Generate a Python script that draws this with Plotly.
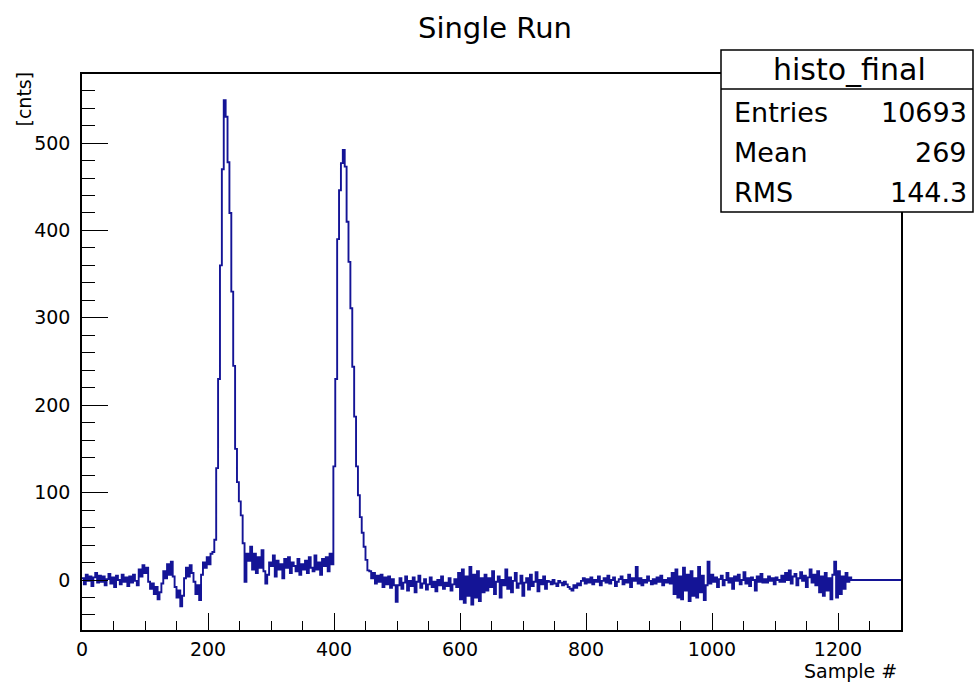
import plotly.graph_objects as go

# Waveform histogram: 3 samples per bin, contents per bin
BIN_WIDTH = 3
X_MAX = 1300

pre_pulse = [
    2, -5, 6, -1, 4, -7, 3, 8, -3, 5, -2, 4, -6, 1, 7, -4, 3, -8, 5, 0,
    -5, 6, -2, 3, -7, 4, -3, 6, -1, -6,
    12, 4, 17, 8, 14,
    -2, -10, -4, -16, -8, -22, -14,
    -4, 10, 2, 18, 6, 21, 4,
    -8, -20, -12, -30, -18,
    2, 14, 4, 17, 8,
    -2, -16, -6, -23,
    6, 20, 14, 26, 18, 30,
]

pulse_1 = [32, 46, 128, 230, 360, 470, 549, 530, 478, 420, 330, 245,
           150, 112, 90, 74, 42, -2, 30]

between = [
    22, 38, 12, 30, 8, 26, 14, 34, 10, -4,
    6, 20, 16, 28, 4, 22, 12, 18, 2, 24,
    14, 26, 8, 20, 16, 10, 24, 6, 18, 12,
    22, 8, 26, 14, 10, 28, 12, 20, 6, 24,
    16, 26, 10, 30, 18,
]

pulse_2 = [130, 230, 390, 446, 477, 492, 473, 410, 364, 311, 244, 187,
           130, 97, 72, 54, 38, 23, 11]

tail = [
    10, 2, 8, -4, 5, -2, 6, -8, 3, -5, 4, -9, 1, -6,
    -25, -6,
    2, -10, -3, 4, -12, -1, -7, 3, -14, -2, 5, -9, -4, 1, -11, -5, 3, -8,
    -2, -13, 0, -6, 4, -10, -3, -7, 2, -12, -5, 1, -8,
    8, -22, 12, -26, 4, -18, 15, -28, 6, -20, 10, -24, 2, -14,
    6, -12, 2, -8, 10, -16, -2, 4, -20, 0, -6, 12, -10, 3, -14, -1, 8, -9,
    -4, 5, -18, -3, 2, -11, 6, -7, -2, 9, -13, 0, -5, 4, -10, -1,
    -2, -5, 0, -4, -7, -1, -3, -6, -2, -5, -8, -10, -12, -6, -9, -4,
    -6, -1, 2, -4, 1, -3, 3, -5, 0, -2, 4, -6, -1, 2, -3, 5, -4, 0, 3, -7,
    -2, 1, 4, -5, 0, -3, 6, -8, 2, -1, 15, -4,
    2, -6, 0, -3, 4, -1, -5, 1, -4, 3, -2, 5, -6, 0, -3, 2, -4,
    8, -16, 12, -20, 4, -22, 14, -12, 6, -24, 10, -18, 2, -20, 15, -14, 5,
    -23, -6,
    21,
    -4, 6, -2, 3, -8, 1, 5, -6, 0, 8, -3, 2, -10, 4, -1, 6, -5, 0, 9, -4,
    2, -7, 3, 0, -12, 4, -2, 7, -3,
    1, -3, 4, -1, 2, -5, 3, 0, -2,
    5, -2, 8, 0, 11, -4, 4, 7, -6, 2, 9, -1, 5, -8, 3, 12, -3, 6,
    -6, 10, -14, 4, -18, 8, -12, 2, -22, 6, 21, -20, 10, -16, 4, -10, 8, -2, 3,
]

stats_name = "histo_final"
stats_labels = ["Entries", "Mean", "RMS"]
stats_values = ["10693", "269", "144.3"]

counts = pre_pulse + pulse_1 + between + pulse_2 + tail
edges = [i * BIN_WIDTH for i in range(len(counts))]
# empty bins after the recorded samples, up to the axis end
xs = edges + [len(counts) * BIN_WIDTH, X_MAX]
ys = counts + [0, 0]

# frame geometry in pixels
W, H = 975, 682
L, R, T, B = 82, 901, 74, 630
FONT = "DejaVu Sans, Liberation Sans, Arial, sans-serif"


def px_x(p):
    return (p - L) / (R - L)


def px_y(p):
    return (B - p) / (B - T)


fig = go.Figure()
fig.add_trace(go.Scatter(
    x=xs, y=ys, mode="lines", line_shape="hv",
    line=dict(color="#141496", width=1.9),
    hoverinfo="skip", showlegend=False,
))

axis_common = dict(
    showgrid=False, zeroline=False, showline=True, mirror=True,
    linecolor="black", linewidth=1.5, ticks="inside", tickcolor="black",
    tickwidth=1.3, tickfont=dict(family=FONT, size=19, color="black"),
)

fig.update_xaxes(
    range=[0, X_MAX], dtick=200, tick0=0, ticklen=17,
    minor=dict(dtick=50, ticks="inside", ticklen=9, tickcolor="black",
               tickwidth=1.3),
    ticklabelstandoff=1,
    **axis_common,
)
fig.update_yaxes(
    range=[-57.2, 579], dtick=100, tick0=0, ticklen=26,
    minor=dict(dtick=20, ticks="inside", ticklen=13, tickcolor="black",
               tickwidth=1.3),
    ticklabelstandoff=6,
    **axis_common,
)

shapes = [
    dict(type="rect", xref="paper", yref="paper",
         x0=px_x(721), x1=px_x(973), y0=px_y(212), y1=px_y(50),
         fillcolor="white", line=dict(color="black", width=1.5),
         layer="above"),
    dict(type="line", xref="paper", yref="paper",
         x0=px_x(721), x1=px_x(973), y0=px_y(89), y1=px_y(89),
         line=dict(color="black", width=1.5), layer="above"),
]

annotations = [
    dict(text="Single Run", x=px_x(495), y=px_y(28), xref="paper",
         yref="paper", showarrow=False, xanchor="center", yanchor="middle",
         font=dict(family=FONT, size=29, color="black")),
    dict(text=stats_name, x=px_x(849), y=px_y(69), xref="paper",
         yref="paper", showarrow=False, xanchor="center", yanchor="middle",
         font=dict(family=FONT, size=30, color="black")),
    dict(text="[cnts]", x=px_x(23), y=px_y(70), xref="paper", yref="paper",
         showarrow=False, xanchor="center", yanchor="top", textangle=-90,
         font=dict(family=FONT, size=19, color="black")),
    dict(text="Sample #", x=px_x(899), y=px_y(671), xref="paper",
         yref="paper", showarrow=False, xanchor="right", yanchor="middle",
         font=dict(family=FONT, size=19, color="black")),
]

for lab, val, yc in zip(stats_labels, stats_values, [112, 152, 192]):
    annotations.append(dict(
        text=lab, x=px_x(732), y=px_y(yc), xref="paper", yref="paper",
        showarrow=False, xanchor="left", yanchor="middle",
        font=dict(family=FONT, size=27, color="black")))
    annotations.append(dict(
        text=val, x=px_x(969), y=px_y(yc), xref="paper", yref="paper",
        showarrow=False, xanchor="right", yanchor="middle",
        font=dict(family=FONT, size=27, color="black")))

fig.update_layout(
    width=W, height=H,
    margin=dict(l=L, r=W - R, t=T, b=H - B, pad=0),
    paper_bgcolor="white", plot_bgcolor="white",
    shapes=shapes, annotations=annotations,
    showlegend=False,
)

fig.write_html("out.html", config={"displayModeBar": False})
